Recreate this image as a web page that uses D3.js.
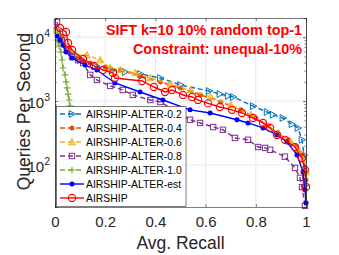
<!DOCTYPE html>
<meta charset="utf-8">
<style>
body { margin: 0; background: #fff; }
svg { font-family: "Liberation Sans", Arial, sans-serif; }
.grid line { stroke: #e3e3e3; stroke-width: 0.8px; }
.tick text { fill: #262626; }
</style>
<svg width="339" height="255"></svg>
<script src="https://d3js.org/d3.v7.min.js"></script>
<script>

// series data (recall, queries per second)
var alter02Recall = [0.008, 0.028, 0.052, 0.10, 0.16, 0.23, 0.28, 0.34, 0.42, 0.50, 0.614, 0.657, 0.69, 0.71, 0.79, 0.845, 0.869, 0.908, 0.944, 0.968, 0.984, 0.992, 1.0];
var alter02Qps    = [12970, 9050, 6320, 4400, 3550, 3070, 2860, 2660, 2300, 1790, 1440, 1290, 1200, 1160, 834, 675, 610, 544, 435, 380, 248, 144, 49];

var alter04Recall = [0.008, 0.028, 0.052, 0.092, 0.14, 0.20, 0.26, 0.34, 0.42, 0.50, 0.58, 0.66, 0.74, 0.80, 0.85, 0.89, 0.93, 0.96, 0.984, 0.996, 1.0];
var alter04Qps    = [14500, 10450, 6800, 4730, 3940, 3410, 3070, 2470, 1990, 1600, 1250, 970, 730, 545, 410, 308, 248, 200, 144, 90, 58];

var alter06Recall = [0.008, 0.028, 0.048, 0.08, 0.127, 0.18, 0.22, 0.26, 0.32, 0.38, 0.46, 0.54, 0.62, 0.70, 0.78, 0.84, 0.89, 0.94, 0.97, 0.99, 1.0];
var alter06Qps    = [12970, 9050, 7040, 5260, 5260, 4400, 3300, 3070, 2760, 2300, 1850, 1490, 1160, 870, 610, 425, 318, 230, 173, 120, 78];

var alter08Recall = [0.008, 0.028, 0.048, 0.068, 0.092, 0.112, 0.14, 0.167, 0.22, 0.27, 0.31, 0.38, 0.42, 0.48, 0.538, 0.578, 0.63, 0.669, 0.717, 0.769, 0.809, 0.837, 0.857, 0.916, 0.956, 0.976, 0.984, 0.996];
var alter08Qps    = [17300, 9050, 6320, 4910, 4400, 3940, 2570, 2140, 1730, 1494, 1250, 1040, 970, 700, 510, 455, 393, 356, 265, 248, 191, 185, 173, 135, 90, 63, 45, 23];

var alter10Recall = [0.008, 0.016, 0.024, 0.028, 0.032, 0.040, 0.044, 0.048, 0.052, 0.056, 0.060];
var alter10Qps    = [9050, 7300, 5850, 4400, 3300, 2570, 2000, 1610, 1290, 1040, 840];

var estRecall = [0.008, 0.02, 0.032, 0.044, 0.068, 0.12, 0.167, 0.239, 0.339, 0.43, 0.538, 0.618, 0.725, 0.769, 0.829, 0.884, 0.924, 0.964, 0.988, 0.996, 1.0];
var estQps    = [10450, 9050, 7500, 5870, 4730, 3670, 3070, 1922, 1390, 1040, 730, 652, 510, 455, 380, 295, 230, 144, 78, 41, 25.6];

var airshipRecall = [0.020, 0.044, 0.052, 0.068, 0.112, 0.155, 0.191, 0.231, 0.239, 0.347, 0.394, 0.438, 0.466, 0.51, 0.546, 0.57, 0.61, 0.657, 0.705, 0.745, 0.789, 0.829, 0.857, 0.884, 0.916, 0.956, 0.984, 0.996, 1.0];
var airshipQps    = [13960, 12080, 8130, 6320, 4560, 3550, 3070, 2760, 2300, 2065, 1663, 1390, 1494, 1248, 1161, 1042, 920, 809, 730, 652, 544, 455, 380, 295, 248, 191, 129, 84, 45];

var xTicks = [0, 0.2, 0.4, 0.6, 0.8, 1];
var yTicks = [100, 1000, 10000];
var titleLines = ["SIFT k=10 10% random top-1", "Constraint: unequal-10%"];

var series = [
  {name: "AIRSHIP-ALTER-0.2", x: alter02Recall, y: alter02Qps, color: "#0072BD", dash: "5,3", marker: "triR"},
  {name: "AIRSHIP-ALTER-0.4", x: alter04Recall, y: alter04Qps, color: "#D95319", dash: "5,3", marker: "dot"},
  {name: "AIRSHIP-ALTER-0.6", x: alter06Recall, y: alter06Qps, color: "#EDB120", dash: "5,3", marker: "triU"},
  {name: "AIRSHIP-ALTER-0.8", x: alter08Recall, y: alter08Qps, color: "#7E2F8E", dash: "5,3", marker: "square"},
  {name: "AIRSHIP-ALTER-1.0", x: alter10Recall, y: alter10Qps, color: "#77AC30", dash: "5,3", marker: "plus"},
  {name: "AIRSHIP-ALTER-est", x: estRecall, y: estQps, color: "#0000FF", dash: null, marker: "dot"},
  {name: "AIRSHIP", x: airshipRecall, y: airshipQps, color: "#FF0000", dash: null, marker: "circle"}
];

var svg = d3.select("svg");
var mLeft = 55, mRight = 306, mTop = 18, mBottom = 207;

var x = d3.scaleLinear().domain([0, 1]).range([mLeft, mRight]);
var y = d3.scaleLog().domain([22, 20000]).range([mBottom, mTop]);

// grid
var grid = svg.append("g").attr("class", "grid");
grid.selectAll(".gx").data(xTicks.slice(1, -1)).enter().append("line")
    .attr("x1", function(d) { return x(d); }).attr("x2", function(d) { return x(d); })
    .attr("y1", mTop).attr("y2", mBottom);
grid.selectAll(".gy").data(yTicks).enter().append("line")
    .attr("y1", function(d) { return y(d); }).attr("y2", function(d) { return y(d); })
    .attr("x1", mLeft).attr("x2", mRight);

function drawMarker(g, type, color) {
  if (type === "triR") {
    g.append("path").attr("d", "M-2.8,-3.4L3.6,0L-2.8,3.4Z").attr("fill", "none").attr("stroke", color).attr("stroke-width", 1);
  } else if (type === "triU") {
    g.append("path").attr("d", "M0,-3.6L3.4,2.8L-3.4,2.8Z").attr("fill", color).attr("fill-opacity", 0.5).attr("stroke", color).attr("stroke-width", 1);
  } else if (type === "dot") {
    g.append("circle").attr("r", 2.5).attr("fill", color);
  } else if (type === "square") {
    g.append("rect").attr("x", -2.7).attr("y", -2.7).attr("width", 5.4).attr("height", 5.4)
      .attr("fill", "none").attr("stroke", color).attr("stroke-width", 1);
  } else if (type === "plus") {
    g.append("path").attr("d", "M-3.3,0H3.3M0,-3.3V3.3").attr("stroke", color).attr("stroke-width", 1.2);
  } else if (type === "circle") {
    g.append("circle").attr("r", 3.6).attr("fill", "none").attr("stroke", color).attr("stroke-width", 1.1);
  }
}

var line = d3.line().x(function(d) { return x(d[0]); }).y(function(d) { return y(d[1]); });

var plot = svg.append("g");
series.forEach(function(s) {
  var pts = s.x.map(function(v, i) { return [v, s.y[i]]; });
  plot.append("path").datum(pts)
      .attr("d", line)
      .attr("fill", "none")
      .attr("stroke", s.color)
      .attr("stroke-width", 1.4)
      .attr("stroke-dasharray", s.dash);
  pts.forEach(function(p) {
    var g = plot.append("g").attr("transform", "translate(" + x(p[0]) + "," + y(p[1]) + ")");
    drawMarker(g, s.marker, s.color);
  });
});

// axes (ticks inward, box)
var xAxis = svg.append("g").attr("transform", "translate(0," + mBottom + ")")
    .call(d3.axisBottom(x).tickValues(xTicks).tickSize(-3).tickPadding(9).tickFormat(d3.format("~g")));
svg.append("g").attr("transform", "translate(0," + mTop + ")")
    .call(d3.axisTop(x).tickValues(xTicks).tickSize(-3).tickFormat(""));

var minor = [];
[10, 100, 1000, 10000].forEach(function(b) {
  for (var k = 2; k <= 9; k++) { var v = b * k; if (v >= 22 && v <= 20000) minor.push(v); }
});

svg.append("g").attr("transform", "translate(" + mLeft + ",0)")
    .call(d3.axisLeft(y).tickValues(yTicks).tickSize(-3).tickFormat(""));
svg.append("g").attr("transform", "translate(" + mRight + ",0)")
    .call(d3.axisRight(y).tickValues(yTicks).tickSize(-3).tickFormat(""));
svg.append("g").attr("transform", "translate(" + mLeft + ",0)")
    .call(d3.axisLeft(y).tickValues(minor).tickSize(-1.7).tickFormat(""));
svg.append("g").attr("transform", "translate(" + mRight + ",0)")
    .call(d3.axisRight(y).tickValues(minor).tickSize(-1.7).tickFormat(""));

svg.selectAll(".domain").attr("stroke", "#262626").attr("stroke-width", 0.6);
svg.selectAll(".tick line").attr("stroke", "#262626").attr("stroke-width", 0.6);
xAxis.selectAll(".tick text").attr("font-size", 15).attr("font-family", "Liberation Sans, Arial, sans-serif");

// y tick labels with superscript
var yl = svg.append("g");
yTicks.forEach(function(v) {
  var t = yl.append("text").attr("x", mLeft - 5).attr("y", y(v) + 7)
      .attr("text-anchor", "end").attr("fill", "#262626").attr("font-size", 15);
  t.append("tspan").text("10");
  t.append("tspan").attr("dy", -7).attr("font-size", 10.5).text(String(Math.round(Math.log10(v))));
});

// axis labels
svg.append("text").attr("x", (mLeft + mRight) / 2).attr("y", 249)
    .attr("text-anchor", "middle").attr("font-size", 17.5).attr("fill", "#262626").text("Avg. Recall");
svg.append("text").attr("transform", "translate(30," + ((mTop + mBottom) / 2 - 1) + ") rotate(-90)")
    .attr("text-anchor", "middle").attr("font-size", 17.5).attr("fill", "#262626").text("Queries Per Second");

// title inside plot
var titleWidths = [196, 169];
titleLines.forEach(function(s, i) {
  svg.append("text").attr("x", 302).attr("y", 35 + i * 19)
      .attr("text-anchor", "end").attr("font-size", 14).attr("font-weight", "bold")
      .attr("textLength", titleWidths[i]).attr("lengthAdjust", "spacingAndGlyphs")
      .attr("fill", "#FF0000").text(s);
});

// legend
var lg = svg.append("g");
lg.append("rect").attr("x", 56.5).attr("y", 106.5).attr("width", 129.5).attr("height", 100)
    .attr("fill", "#fff").attr("stroke", "#262626").attr("stroke-width", 0.6);
series.forEach(function(s, i) {
  var cy = 114 + i * 14;
  lg.append("line").attr("x1", 60).attr("x2", 84).attr("y1", cy).attr("y2", cy)
      .attr("stroke", s.color).attr("stroke-width", 1.4).attr("stroke-dasharray", s.dash);
  var g = lg.append("g").attr("transform", "translate(72," + cy + ")");
  drawMarker(g, s.marker, s.color);
  lg.append("text").attr("x", 86).attr("y", cy + 3.8).attr("font-size", 10.4)
      .attr("fill", "#000").text(s.name);
});

</script>
